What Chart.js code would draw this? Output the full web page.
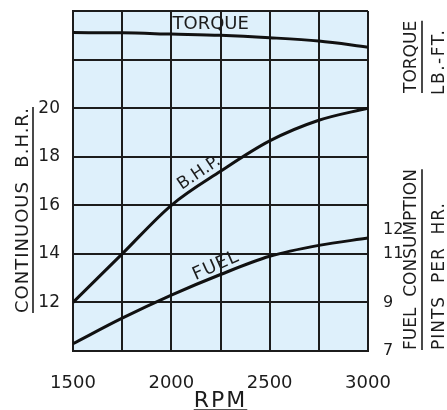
<!DOCTYPE html>
<html>
<head>
<meta charset="utf-8">
<script src="https://cdn.jsdelivr.net/npm/chart.js@4"></script>
<style>
  html, body { margin: 0; padding: 0; background: #fff; }
</style>
</head>
<body>
<canvas id="myChart" width="447" height="410"></canvas>
<script>
// Values
const rpm = [1500, 1750, 2000, 2250, 2500, 2750, 3000];
const bhp = [12.0, 14.0, 16.0, 17.4, 18.65, 19.5, 20.0];
const fuel = [7.3, 8.35, 9.3, 10.15, 10.9, 11.35, 11.65];
const torque = [41.1, 41.0, 40.5, 40.0, 39.0, 37.6, 35.1];

// Tick labels that are printed
const rpmLabels = [1500, 2000, 2500, 3000];
const bhpLabels = [12, 14, 16, 18, 20];
const fuelTicks = [7, 9, 11, 12];
const torqueTicks = [30, 40];

const ink = "#1c1c1c";
const font = "DejaVu Sans";

function pairs(ys) {
  return rpm.map((r, i) => ({ x: r, y: ys[i] }));
}

function curve(label, data, axis) {
  return {
    label: label,
    data: pairs(data),
    yAxisID: axis,
    borderColor: "#111",
    borderWidth: 3,
    pointRadius: 0,
    fill: false,
    cubicInterpolationMode: "monotone",
  };
}

// draws text rotated, starting at (x, y), optional underline
function label(ctx, str, x, y, angle, size, opts) {
  opts = opts || {};
  ctx.save();
  ctx.translate(x, y);
  ctx.rotate(angle);
  ctx.font = size + "px '" + font + "'";
  ctx.letterSpacing = (opts.spacing || 0) + "px";
  ctx.fillStyle = ink;
  ctx.textAlign = opts.align || "left";
  ctx.textBaseline = opts.baseline || "middle";
  ctx.fillText(str, 0, 0);
  if (opts.underline) {
    const w = ctx.measureText(str).width;
    const x0 = opts.align === "center" ? -w / 2 : 0;
    ctx.strokeStyle = ink;
    ctx.lineWidth = 1.6;
    ctx.beginPath();
    ctx.moveTo(x0, opts.underline);
    ctx.lineTo(x0 + w, opts.underline);
    ctx.stroke();
  }
  ctx.restore();
}

const paper = {
  id: "paper",
  beforeDraw(chart) {
    const { ctx, chartArea: a } = chart;
    ctx.save();
    ctx.fillStyle = "#def0fb";
    ctx.fillRect(a.left, a.top, a.right - a.left, a.bottom - a.top);
    ctx.restore();
  },
  afterDraw(chart) {
    const ctx = chart.ctx;
    const x = chart.scales.x;
    const y = chart.scales.y;
    const yF = chart.scales.yFuel;
    const yT = chart.scales.yTorque;
    const up = -Math.PI / 2;

    // curve names
    label(ctx, "TORQUE", x.getPixelForValue(2200), yT.getPixelForValue(44.6), 0, 18, { align: "center" });
    label(ctx, "B.H.P.", x.getPixelForValue(2141), y.getPixelForValue(17.33), -34 * Math.PI / 180, 17, { align: "center" });
    label(ctx, "FUEL", x.getPixelForValue(2227), yF.getPixelForValue(10.5), -24 * Math.PI / 180, 18, { align: "center", spacing: 1 });

    // axis titles
    label(ctx, "RPM", x.getPixelForValue(2250), 407, 0, 22, { align: "center", baseline: "alphabetic", spacing: 2, underline: 3 });
    label(ctx, "CONTINUOUS  B.H.R.", 23, 313, up, 18, { spacing: 1, underline: 10 });
    label(ctx, "TORQUE", 412, 93, up, 17, { underline: 10 });
    label(ctx, "LB.-FT.", 440, 95, up, 17, { spacing: 1.5, underline: 10 });
    label(ctx, "FUEL  CONSUMPTION", 412, 350, up, 17, { underline: 10 });
    label(ctx, "PINTS  PER  HR.", 440, 350, up, 17, { spacing: 1, underline: 10 });
  },
};

const gridLines = { color: ink, lineWidth: 2, drawTicks: false };
const tickFont = { family: font, size: 17 };

// keep the plot box fixed: no extra room for end labels
function fixWidth(w) {
  return (s) => {
    s.width = w;
    s.paddingTop = 0;
    s.paddingBottom = 0;
  };
}

new Chart(document.getElementById("myChart"), {
  type: "line",
  data: {
    datasets: [
      curve("Torque", torque, "yTorque"),
      curve("B.H.P.", bhp, "y"),
      curve("Fuel", fuel, "yFuel"),
    ],
  },
  options: {
    responsive: false,
    animation: false,
    layout: { padding: { top: 11, left: 0, right: 0, bottom: 0 } },
    plugins: {
      legend: { display: false },
      tooltip: { enabled: false },
    },
    scales: {
      x: {
        type: "linear",
        min: 1500,
        max: 3000,
        grid: gridLines,
        border: { color: ink, width: 2 },
        ticks: {
          stepSize: 250,
          autoSkip: false,
          maxRotation: 0,
          padding: 22,
          color: ink,
          font: { family: font, size: 18 },
          callback: (v) => (rpmLabels.includes(v) ? String(v) : ""),
        },
        afterFit: (s) => { s.height = 59; },
      },
      y: {
        position: "left",
        min: 10,
        max: 24,
        grid: gridLines,
        border: { color: ink, width: 2 },
        ticks: {
          stepSize: 2,
          padding: 13,
          color: ink,
          font: tickFont,
          callback: (v) => (bhpLabels.includes(v) ? String(v) : ""),
        },
        afterFit: fixWidth(73),
      },
      yTorque: {
        position: "right",
        weight: 0,
        min: -90,
        max: 50,
        grid: { display: false },
        border: { display: false },
        ticks: {
          padding: 8,
          color: ink,
          font: { family: font, size: 16 },
        },
        afterBuildTicks: (s) => { s.ticks = torqueTicks.map((v) => ({ value: v })); },
        afterFit: fixWidth(0),
      },
      yFuel: {
        position: "right",
        weight: 1,
        min: 7,
        max: 21,
        grid: { display: false },
        border: { display: false },
        ticks: {
          padding: 7,
          color: ink,
          font: { family: font, size: 16 },
        },
        afterBuildTicks: (s) => { s.ticks = fuelTicks.map((v) => ({ value: v })); },
        afterFit: fixWidth(79),
      },
    },
  },
  plugins: [paper],
});
</script>
</body>
</html>
